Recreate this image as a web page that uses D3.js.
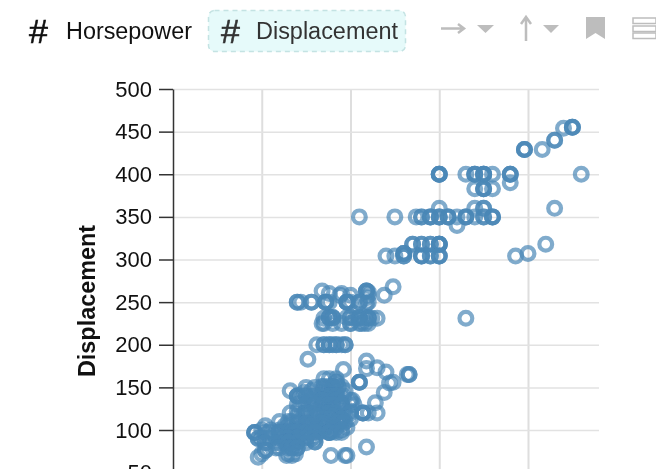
<!DOCTYPE html>
<html lang="en">

<head>
    <meta charset="UTF-8">
    <title>Horsepower vs Displacement</title>
    <script src="https://d3js.org/d3.v7.min.js"></script>
    <style>
        html, body { margin: 0; padding: 0; background: #fff; overflow: hidden; }
        svg { display: block; font-family: "Liberation Sans", Arial, sans-serif; filter: blur(0.5px); }
    </style>
</head>

<body>

    <svg width="656" height="469" id="mainsvg"></svg>

    <script>
        // values, one displacement value per row of horsepower values
        const displacementRows = [
            455, 454, 440, 429, 400, 390, 383, 360, 350, 340, 318, 307, 304,
            268, 263, 262, 260, 258, 255, 250, 248, 232, 231, 225, 200, 183, 181,
            173, 172, 171, 168, 165, 160, 156, 155, 151, 150, 146, 144, 140, 135,
            132, 130, 122, 120, 116, 113, 110, 108, 105, 103, 100, 98, 97, 91,
            90, 86, 85, 80, 79, 76, 72, 70, 68
        ];
        const horsepowerRows = [
            [225, 225, 225], [220], [215, 215], [198, 198, 198, 208],
            [150, 150, 150, 150, 165, 170, 170, 170, 175, 175, 175, 175, 180, 190, 190, 190, 230],
            [190], [170, 175, 175, 175, 180], [150, 170, 175, 175, 215],
            [105, 125, 137, 140, 140, 145, 145, 145, 150, 150, 150, 155, 155, 155, 160, 165, 165, 165, 170, 175, 175, 180, 180, 180],
            [160], [135, 135, 140, 140, 145, 145, 150, 150, 150, 150, 150, 210], [130, 130, 130, 200],
            [120, 125, 130, 130, 140, 140, 140, 145, 145, 150, 150, 150, 193],
            [124], [84, 109, 109, 109], [110], [88, 95], [94, 100, 110, 119], [109],
            [70, 70, 72, 78, 78, 86, 86, 86, 88, 98, 98, 98, 98, 100, 105, 105, 110], [109],
            [88, 88, 88, 90, 90, 98, 100, 100, 105, 108, 110], [85, 90, 103, 105, 105, 110, 110, 112, 115, 165],
            [84, 85, 90, 95, 100, 100, 105, 106, 108, 110],
            [81, 85, 85, 88, 88, 90, 92, 92, 95, 97, 97], [76], [109],
            [115], [109], [96], [120], [132, 133, 133], [85, 88, 92],
            [92, 92, 105, 105, 105, 124], [122], [84, 85, 88, 90, 90, 90, 90, 93, 95],
            [75, 80, 85, 90, 93], [66, 78, 86, 97], [74, 84, 92, 119],
            [70, 70, 70, 72, 75, 75, 78, 80, 83, 86, 88, 88, 88, 88, 90, 92, 92, 96],
            [78, 84, 84, 90, 92, 100, 101], [72, 80, 85, 95, 114], [70, 75, 80, 85, 88, 90, 95, 95, 100, 102],
            [70, 75, 80, 84, 86, 88, 96, 100],
            [66, 74, 75, 75, 78, 80, 84, 87, 88, 88, 90, 92, 97, 100, 107, 107, 107, 110, 115],
            [70, 75, 81, 90, 95], [84, 88, 95, 95, 95, 100], [60, 65, 67, 70, 75, 80, 85, 87, 90, 93, 95, 97],
            [70, 75, 75, 75, 84, 93, 96], [52, 63, 65, 70, 75, 78, 84, 90], [72, 80, 86, 90, 92, 98],
            [50, 55, 60, 65, 70, 75, 80, 85, 90, 95],
            [60, 63, 65, 65, 67, 68, 70, 70, 70, 75, 76, 80, 83, 90],
            [46, 46, 46, 52, 54, 60, 60, 65, 67, 69, 70, 75, 78, 80, 88, 88, 88, 88, 92, 95],
            [53, 60, 62, 65, 67, 68, 69, 70, 70, 75, 80],
            [48, 48, 50, 55, 60, 65, 71, 75, 78], [64, 65, 65, 65, 70, 80, 80],
            [52, 52, 58, 60, 63, 65, 65, 65, 70, 75],
            [109], [58, 60, 65, 67, 67, 70, 70], [52, 52], [50, 65, 69],
            [89, 97, 98, 64, 67], [48]
        ];
        const yTicks = [50, 100, 150, 200, 250, 300, 350, 400, 450, 500];
        const xTicks = [50, 100, 150, 200];

        const data = displacementRows.flatMap((d, i) =>
            horsepowerRows[i].map(hp => ({ horsepower: hp, displacement: d })));

        const svg = d3.select('#mainsvg');
        const margin = { top: 89, left: 173 };
        const innerWidth = 426;
        const innerHeight = 426.25;

        const xScale = d3.scaleLinear().domain([0, 240]).range([0, innerWidth]);
        const yScale = d3.scaleLinear().domain([0, 500]).range([innerHeight, 0]);

        const g = svg.append('g')
            .attr('transform', `translate(${margin.left},${margin.top})`);

        // 网格线
        const xGrid = g.append('g')
            .attr('transform', `translate(0,${innerHeight})`)
            .call(d3.axisBottom(xScale).tickValues(xTicks).tickSize(-innerHeight).tickFormat(''));
        const yGrid = g.append('g')
            .call(d3.axisLeft(yScale).tickValues(yTicks).tickSize(-innerWidth).tickFormat(''));
        xGrid.selectAll('.domain').remove();
        yGrid.selectAll('.domain').remove();
        xGrid.selectAll('.tick line').attr('stroke', '#dedede').attr('stroke-width', 2);
        yGrid.selectAll('.tick line').attr('stroke', '#e2e2e2').attr('stroke-width', 1.5);

        // y轴
        const yAxis = g.append('g')
            .call(d3.axisLeft(yScale).tickValues(yTicks).tickSize(14).tickPadding(7).tickSizeOuter(0));
        yAxis.selectAll('text')
            .attr('font-size', 22)
            .attr('fill', '#111')
            .attr('font-family', '"Liberation Sans", Arial, sans-serif');
        yAxis.selectAll('.domain, .tick line').attr('stroke', '#333').attr('stroke-width', 1.5);

        g.append('text')
            .text('Displacement')
            .attr('transform', `translate(${-78},${212}) rotate(-90)`)
            .attr('text-anchor', 'middle')
            .attr('font-size', 23.4)
            .attr('font-weight', 'bold')
            .attr('fill', '#111');

        // 散点
        g.append('g').selectAll('circle')
            .data(data)
            .enter()
            .append('circle')
            .attr('cx', d => xScale(d.horsepower))
            .attr('cy', d => yScale(d.displacement))
            .attr('r', 6.4)
            .attr('fill', 'none')
            .attr('stroke', '#4a87b6')
            .attr('stroke-width', 4.2)
            .attr('stroke-opacity', 0.7);

        // 顶部工具栏
        const bar = svg.append('g');
        bar.append('rect')
            .attr('x', 208.5).attr('y', 10.5).attr('width', 197).attr('height', 41).attr('rx', 6)
            .attr('fill', '#e6fafa')
            .attr('stroke', '#c4e3e3')
            .attr('stroke-width', 1.5)
            .attr('stroke-dasharray', '5,4');

        const labels = [
            { hash: 38, x: 66, text: 'Horsepower', len: 126, fill: '#111' },
            { hash: 230, x: 256, text: 'Displacement', len: 142, fill: '#333' }
        ];
        labels.forEach(l => {
            bar.append('text').text('#')
                .attr('x', l.hash).attr('y', 43).attr('text-anchor', 'middle')
                .attr('font-size', 34).attr('font-style', 'italic').attr('fill', l.fill)
                .attr('stroke', l.fill).attr('stroke-width', 0.6);
            bar.append('text').text(l.text)
                .attr('x', l.x).attr('y', 38.5)
                .attr('font-size', 23).attr('textLength', l.len)
                .attr('lengthAdjust', 'spacingAndGlyphs')
                .attr('fill', l.fill);
        });

        // 图标
        const iconColor = '#bdbdbd';
        bar.append('path')
            .attr('d', 'M441 28.5h23M458 24l6 4.5-6 4.5')
            .attr('fill', 'none').attr('stroke', iconColor).attr('stroke-width', 2.5);
        bar.append('path').attr('d', 'M477 25h17l-8.5 8z').attr('fill', iconColor);
        bar.append('path')
            .attr('d', 'M526 41V18M521 24l5-7 5 7')
            .attr('fill', 'none').attr('stroke', iconColor).attr('stroke-width', 2.5);
        bar.append('path').attr('d', 'M543 25h16l-8 8z').attr('fill', iconColor);
        bar.append('path').attr('d', 'M586 17h19v22l-9.5-6-9.5 6z').attr('fill', iconColor);
        [18, 26, 33].forEach(y => {
            bar.append('rect').attr('x', 633).attr('y', y).attr('width', 23).attr('height', 5.5)
                .attr('fill', '#fff').attr('stroke', iconColor).attr('stroke-width', 1.5);
        });
    </script>
</body>

</html>
